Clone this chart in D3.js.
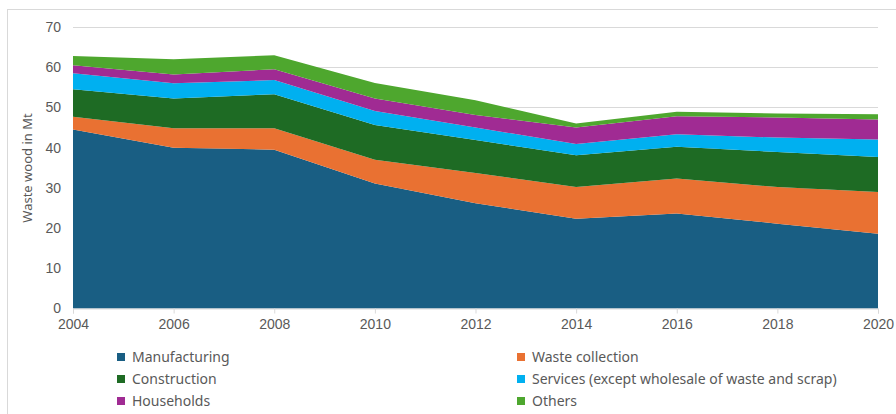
<!DOCTYPE html>
<html>
<head>
<meta charset="utf-8">
<script src="https://cdn.jsdelivr.net/npm/d3@7"></script>
<style>
  body { margin: 0; background: #fff; }
  svg { display: block; font-family: "Noto Sans", "Open Sans", sans-serif; }
</style>
</head>
<body>
<svg width="896" height="414"></svg>
<script>
const years = [2004, 2006, 2008, 2010, 2012, 2014, 2016, 2018, 2020];
const yTicks = [0, 10, 20, 30, 40, 50, 60, 70];

const seriesNames = ["Manufacturing", "Waste collection", "Construction",
    "Services (except wholesale of waste and scrap)", "Households", "Others"];
const seriesColors = ["#195e83", "#e97132", "#1e6b24", "#00b0f0", "#a02b93", "#4ea72e"];

const manufacturing = [44.5, 40.0, 39.5, 31.1, 26.2, 22.3, 23.6, 21.1, 18.6];
const wasteCollection = [3.2, 4.8, 5.3, 5.9, 7.5, 7.9, 8.7, 9.1, 10.4];
const construction = [6.8, 7.4, 8.5, 8.6, 8.2, 7.9, 7.9, 8.7, 8.7];
const services = [4.0, 3.8, 3.5, 3.5, 3.1, 2.8, 3.1, 3.6, 4.3];
const households = [2.0, 2.2, 2.7, 3.1, 3.1, 4.1, 4.5, 5.0, 5.0];
const others = [2.3, 3.8, 3.5, 3.9, 3.7, 1.0, 1.1, 1.0, 1.3];

const seriesValues = [manufacturing, wasteCollection, construction, services, households, others];

const rows = years.map((yr, i) => {
    const r = { year: yr };
    seriesNames.forEach((n, k) => r[n] = seriesValues[k][i]);
    return r;
});

const svg = d3.select("svg");
const margin = { top: 27, left: 73, right: 18, bottom: 106 };
const width = 896, height = 414;

// chart frame
svg.append("rect")
    .attr("x", 7.5).attr("y", 9.5)
    .attr("width", 900).attr("height", 420)
    .attr("fill", "none").attr("stroke", "#d9d9d9");

const x = d3.scaleLinear().domain([2004, 2020]).range([margin.left, 878]);
const y = d3.scaleLinear().domain([0, 70]).range([308.5, 27]);

// gridlines
svg.append("g")
    .selectAll("line")
    .data(yTicks.slice(1))
    .join("line")
    .attr("x1", x(2004)).attr("x2", x(2020))
    .attr("y1", d => Math.round(y(d)) + 0.5).attr("y2", d => Math.round(y(d)) + 0.5)
    .attr("stroke", "#d9d9d9");

const stack = d3.stack().keys(seriesNames);
const layers = stack(rows);

const area = d3.area()
    .x(d => x(d.data.year))
    .y0(d => y(d[0]))
    .y1(d => y(d[1]));

svg.append("g")
    .selectAll("path")
    .data(layers)
    .join("path")
    .attr("fill", (d, i) => seriesColors[i])
    .attr("d", area);

// x axis
const xAxis = svg.append("g")
    .attr("transform", `translate(0, ${y(0)})`)
    .call(d3.axisBottom(x).tickValues(years).tickFormat(d3.format("d")).tickSize(5).tickPadding(6));
xAxis.select(".domain").attr("stroke", "#d9d9d9");
xAxis.selectAll(".tick line").attr("stroke", "#d9d9d9");
xAxis.selectAll("text").attr("fill", "#595959").style("font-size", "14px");

// y axis labels
const yAxis = svg.append("g")
    .attr("transform", `translate(${x(2004)}, 0)`)
    .call(d3.axisLeft(y).tickValues(yTicks).tickSize(0).tickPadding(12));
yAxis.select(".domain").remove();
yAxis.selectAll("text").attr("fill", "#595959").style("font-size", "14px");

svg.append("text")
    .attr("transform", "translate(32, 168) rotate(-90)")
    .attr("text-anchor", "middle")
    .attr("fill", "#595959")
    .style("font-size", "13px")
    .text("Waste wood in Mt");

// legend
const legend = svg.append("g");
seriesNames.forEach((name, i) => {
    const col = i % 2, row = Math.floor(i / 2);
    const lx = col === 0 ? 117 : 517;
    const ly = 357 + row * 22;
    legend.append("rect")
        .attr("x", lx).attr("y", ly - 4)
        .attr("width", 8).attr("height", 8)
        .attr("fill", seriesColors[i]);
    legend.append("text")
        .attr("x", lx + 15).attr("y", ly)
        .attr("dy", "0.35em")
        .attr("fill", "#595959")
        .style("font-size", "14px")
        .text(name);
});
</script>
</body>
</html>
